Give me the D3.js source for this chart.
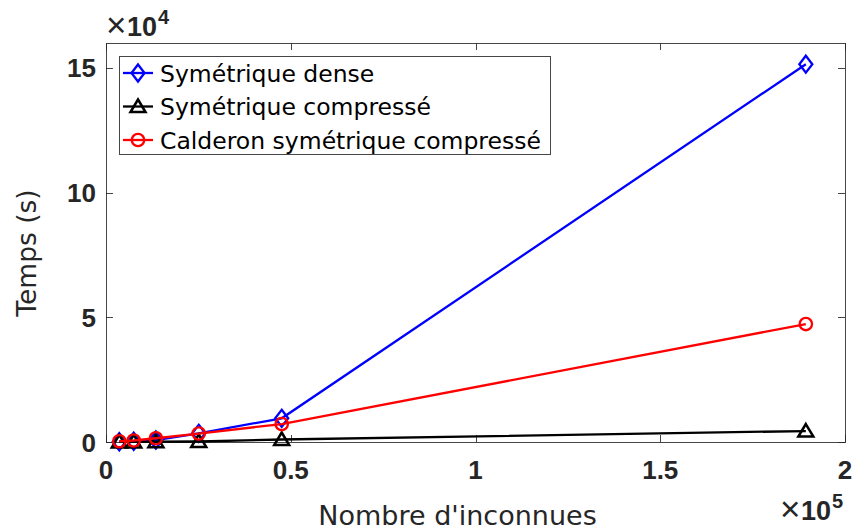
<!DOCTYPE html>
<html>
<head>
<meta charset="utf-8">
<script src="https://cdn.jsdelivr.net/npm/d3@7"></script>
<style>
  html, body { margin: 0; padding: 0; background: #fff; }
  svg { display: block; }
</style>
</head>
<body>
<svg id="chart" width="853" height="531"></svg>
<script>
// Number of unknowns (x) and computation times in seconds
const unknowns = [3600, 7500, 13500, 25100, 47550, 189400];
const denseSym = [100, 300, 800, 3500, 9500, 151500];
const compressedSym = [20, 50, 100, 200, 1000, 4400];
const calderonCompressed = [300, 600, 1500, 3400, 7200, 47300];

const seriesNames = ["Symétrique dense", "Symétrique compressé", "Calderon symétrique compressé"];
const xTicks = [0, 0.5, 1, 1.5, 2];
const yTicks = [0, 5, 10, 15];

const svg = d3.select("#chart");
const axisColor = "#262626";

const plotLeft = 106, plotRight = 845, plotTop = 43, plotBottom = 442;
const x = d3.scaleLinear().domain([0, 2e5]).range([plotLeft, plotRight]);
const y = d3.scaleLinear().domain([0, 16e4]).range([plotBottom, plotTop]);

const tickFont = "'Liberation Sans', Arial, Helvetica, sans-serif";
const labelFont = "'DejaVu Sans', sans-serif";

// Axis box
svg.append("rect")
  .attr("x", plotLeft + 0.5).attr("y", plotTop + 0.5)
  .attr("width", plotRight - plotLeft).attr("height", plotBottom - plotTop)
  .attr("fill", "none").attr("stroke", axisColor).attr("stroke-opacity", 0.85).attr("stroke-width", 1);

// Ticks on all four sides, pointing inwards
const tickLen = 7;
const gTicks = svg.append("g").attr("stroke", axisColor).attr("stroke-opacity", 0.85).attr("stroke-width", 1);
xTicks.forEach(t => {
  const px = Math.round(x(t * 1e5)) + 0.5;
  gTicks.append("line").attr("x1", px).attr("x2", px).attr("y1", plotBottom).attr("y2", plotBottom - tickLen);
  gTicks.append("line").attr("x1", px).attr("x2", px).attr("y1", plotTop).attr("y2", plotTop + tickLen);
});
yTicks.forEach(t => {
  const py = Math.round(y(t * 1e4)) + 0.5;
  gTicks.append("line").attr("x1", plotLeft).attr("x2", plotLeft + tickLen).attr("y1", py).attr("y2", py);
  gTicks.append("line").attr("x1", plotRight).attr("x2", plotRight - tickLen).attr("y1", py).attr("y2", py);
});

// Tick labels
const gLabels = svg.append("g").attr("fill", axisColor)
  .attr("font-family", tickFont).attr("font-weight", "bold").attr("font-size", 26);
xTicks.forEach(t => {
  gLabels.append("text").attr("x", x(t * 1e5)).attr("y", 478.5)
    .attr("text-anchor", "middle").text(d3.format("")(t));
});
yTicks.forEach(t => {
  gLabels.append("text").attr("x", 96).attr("y", y(t * 1e4) + 9.5)
    .attr("text-anchor", "end").text(t);
});

// Exponent annotations
function exponent(xPos, yPos, power) {
  const g = svg.append("g").attr("fill", axisColor).attr("font-family", tickFont);
  g.append("text").attr("x", xPos - 1).attr("y", yPos + 1)
    .attr("font-size", 35).attr("font-weight", "normal").text("×");
  g.append("text").attr("x", xPos + 20).attr("y", yPos)
    .attr("font-size", 27).attr("font-weight", "bold").text("10");
  g.append("text").attr("x", xPos + 51).attr("y", yPos - 12)
    .attr("font-size", 20).attr("font-weight", "bold").text(power);
}
exponent(107, 36, "4");
exponent(781, 520, "5");

// Axis titles
svg.append("text")
  .attr("transform", "translate(36,253) rotate(-90)")
  .attr("text-anchor", "middle").attr("fill", axisColor)
  .attr("font-family", labelFont).attr("font-size", 26.5)
  .text("Temps (s)");
svg.append("text")
  .attr("x", 457.5).attr("y", 525)
  .attr("text-anchor", "middle").attr("fill", axisColor)
  .attr("font-family", labelFont).attr("font-size", 27)
  .text("Nombre d'inconnues");

// Marker shapes
function drawMarker(g, kind, cx, cy, color) {
  if (kind === "diamond") {
    g.append("path")
      .attr("d", `M${cx},${cy - 8.5}L${cx + 6.5},${cy}L${cx},${cy + 8.5}L${cx - 6.5},${cy}Z`)
      .attr("fill", "none").attr("stroke", color).attr("stroke-width", 2.3);
  } else if (kind === "triangle") {
    g.append("path")
      .attr("d", `M${cx},${cy - 7}L${cx + 7.5},${cy + 5.5}L${cx - 7.5},${cy + 5.5}Z`)
      .attr("fill", "none").attr("stroke", color).attr("stroke-width", 2.5);
  } else {
    g.append("circle").attr("cx", cx).attr("cy", cy).attr("r", 6.2)
      .attr("fill", "none").attr("stroke", color).attr("stroke-width", 2.3);
  }
}

const series = [
  { name: seriesNames[0], values: denseSym, color: "#0000ff", marker: "diamond" },
  { name: seriesNames[1], values: compressedSym, color: "#000000", marker: "triangle" },
  { name: seriesNames[2], values: calderonCompressed, color: "#ff0000", marker: "circle" }
];

const line = d3.line().x(d => x(d[0])).y(d => y(d[1]));
series.forEach(s => {
  const pts = unknowns.map((u, i) => [u, s.values[i]]);
  const g = svg.append("g");
  g.append("path").attr("d", line(pts))
    .attr("fill", "none").attr("stroke", s.color).attr("stroke-width", 2.3);
  pts.forEach(p => drawMarker(g, s.marker, x(p[0]), y(p[1]), s.color));
});

// Legend
const lg = svg.append("g");
lg.append("rect").attr("x", 119.5).attr("y", 56.5).attr("width", 431).attr("height", 98)
  .attr("fill", "#fff").attr("stroke", axisColor).attr("stroke-opacity", 0.85).attr("stroke-width", 1);
series.forEach((s, i) => {
  const cy = 73 + i * 33.5;
  lg.append("line").attr("x1", 123).attr("x2", 153).attr("y1", cy).attr("y2", cy)
    .attr("stroke", s.color).attr("stroke-width", 2.3);
  drawMarker(lg, s.marker, 138, cy, s.color);
  lg.append("text").attr("x", 160).attr("y", cy + 8.5)
    .attr("fill", "#000").attr("font-family", labelFont).attr("font-size", 23.5)
    .text(s.name);
});
</script>
</body>
</html>
